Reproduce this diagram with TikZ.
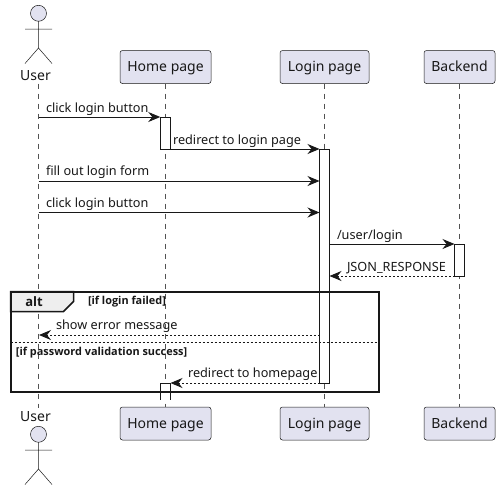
\documentclass[tikz,border=0pt]{standalone}
\usepackage{fontspec}
\setmainfont{Noto Sans}
\newfontfamily\heavyfont{Open Sans}
\usetikzlibrary{arrows.meta}
\definecolor{ink}{HTML}{181818}
\definecolor{partfill}{HTML}{E2E2F0}
\definecolor{tabfill}{HTML}{EEEEEE}
\tikzset{
  part/.style={draw=ink,line width=.5pt,fill=partfill,rounded corners=2.5pt,minimum height=33pt,inner sep=0pt,outer sep=0pt,text height=13pt,text depth=3.6pt,font=\fontsize{14}{16}\selectfont,text=ink},
  actorlabel/.style={anchor=base,inner sep=0pt,outer sep=0pt,font=\fontsize{14}{16}\selectfont,text=ink},
  life/.style={draw=ink!75,line width=.5pt,dash pattern=on 5pt off 5pt},
  limb/.style={draw=ink,line width=.5pt},
  bar/.style={draw=ink,line width=1pt,fill=white,inner sep=0pt,outer sep=0pt,minimum width=10pt},
  msg/.style={draw=ink,line width=1pt,-{Stealth[length=12pt,width=10pt,inset=4pt]}},
  ret/.style={msg,dash pattern=on 2pt off 2pt},
  lab/.style={anchor=base west,inner sep=0pt,outer sep=0pt,font=\fontsize{12.7}{15}\selectfont,text=ink},
  guard/.style={anchor=base west,inner sep=0pt,outer sep=0pt,font=\heavyfont\bfseries\fontsize{10.9}{13}\selectfont,text=ink},
}
\begin{document}
\begin{tikzpicture}[x=1pt,y=-1pt]
\useasboundingbox (0,0) rectangle (500,490);
% participants
\coordinate (ut) at (38.5,83.5);
\coordinate (ub) at (38.5,408);
\node[part,minimum width=91pt] (ht) at (165.5,67) {Home page};
\node[part,minimum width=89pt] (lt) at (324.5,67) {Login page};
\node[part,minimum width=71pt] (bt) at (459.5,67) {Backend};
\node[part,minimum width=91pt] (hb) at (165.5,423.5) {Home page};
\node[part,minimum width=89pt] (lb) at (324.5,423.5) {Login page};
\node[part,minimum width=71pt] (bb) at (459.5,423.5) {Backend};
% lifelines
\draw[life] (ut) -- (ub);
\draw[life] (ht) -- (hb);
\draw[life] (lt) -- (lb);
\draw[life] (bt) -- (bb);
% actors
\foreach \y/\n in {0/t,421/b}{
  \begin{scope}[yshift=-\y pt]
  \draw[limb,fill=partfill] (38.5,13.3) circle (8pt);
  \draw[limb] (38.5,21.3) -- (38.5,48) (25,29) -- (52,29) (25,63.5) -- (38.5,48) -- (52,63.5);
  \end{scope}
}
\node[actorlabel] (ua) at (35.5,80) {User};
\node[actorlabel] (ub2) at (35.5,421.7) {User};
% activations
\node[bar,minimum height=32pt] (a1) at (165.25,133) {};
\node[bar,minimum height=234pt] (a2) at (324.5,266) {};
\node[bar,minimum height=32pt] (a3) at (459.5,260) {};
\draw[ink,line width=1pt,fill=white] (160.25,399.5) -- (160.25,383) -- (170.25,383) -- (170.25,399.5);
% alt frame
\draw[draw=ink,line width=1.5pt,fill=tabfill] (10.5,291.5) -- (73.5,291.5) -- (73.5,301.5) -- (63.5,311.5) -- (10.5,311.5) -- cycle;
\draw[draw=ink,line width=2pt] (10.5,291.5) rectangle (379,391.5);
\draw[draw=ink,line width=1pt,dash pattern=on 2pt off 2pt] (10.5,342.7) -- (379,342.7);
\node[anchor=base,inner sep=0pt,font=\heavyfont\bfseries\fontsize{13}{15}\selectfont,text=ink] (altl) at (34,306) {alt};
\node[guard] (g1) at (88,304.5) {[if login failed]};
\node[guard] (g2) at (16,355) {[if password validation success]};
% messages
\coordinate (m1) at (38.5,117);
\coordinate (m3) at (38.5,181);
\coordinate (m4) at (38.5,212.5);
\coordinate (m5) at (329.5,244);
\coordinate (m6) at (39,335);
\coordinate (m8) at (170.5,383);
\draw[msg] (m1) -- (a1.north west);
\draw[msg] (a1.south east) -- (a2.north west);
\draw[msg] (m3) -- (m3 -| a2.west);
\draw[msg] (m4) -- (m4 -| a2.west);
\draw[msg] (m5) -- (a3.north west);
\draw[ret] (a3.south west) -- (a3.south west -| a2.east);
\draw[ret] (m6 -| a2.west) -- (m6);
\draw[ret] (a2.south west) -- (m8);
\node[lab] (t1) at (46,112) {click login button};
\node[lab] (t2) at (173,144) {redirect to login page};
\node[lab] (t3) at (46,175) {fill out login form};
\node[lab] (t4) at (46,207) {click login button};
\node[lab] (t5) at (337,239) {/user/login};
\node[lab] (t6) at (347,271) {JSON\_RESPONSE};
\node[lab] (t7) at (56,329) {show error message};
\node[lab] (t8) at (188,377) {redirect to homepage};
\end{tikzpicture}
\end{document}
